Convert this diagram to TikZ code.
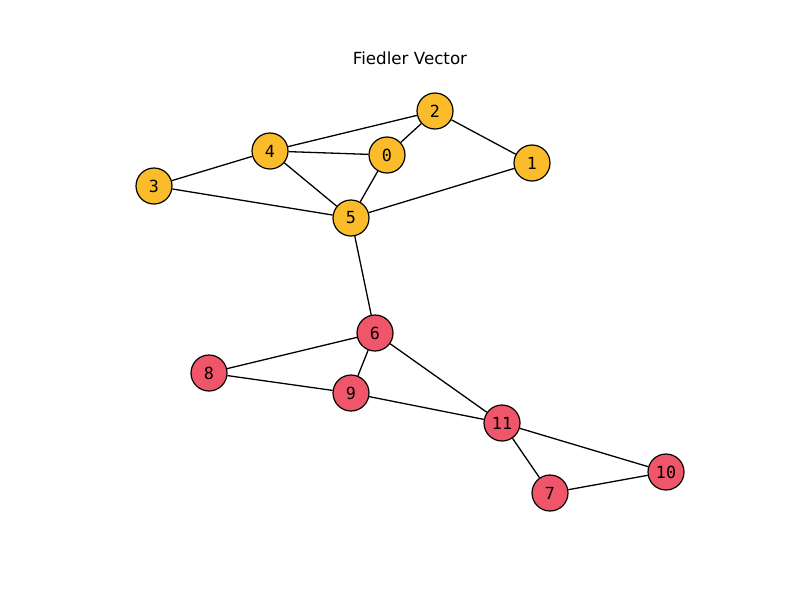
\documentclass[tikz,border=0pt]{standalone}
\usepackage{fontspec}
\setmainfont{DejaVu Sans}
\newfontfamily\monofnt{DejaVu Sans Mono}
\definecolor{yel}{HTML}{FBBC2C}
\definecolor{redn}{HTML}{F0566A}
\begin{document}
\begin{tikzpicture}[x=1pt,y=-1pt,
  vtx/.style={circle,draw=black,line width=1.2pt,minimum size=36pt,inner sep=0pt,font=\monofnt\fontsize{16.7}{20}\selectfont},
  yv/.style={vtx,fill=yel},
  rv/.style={vtx,fill=redn},
  edge/.style={line width=1.3pt,black}]
\useasboundingbox (0,0) rectangle (800,600);
\node[font=\fontsize{16.7}{20}\selectfont] (title) at (410,58) {Fiedler Vector};
\node[yv] (n0) at (387,155) {0};
\node[yv] (n1) at (532,163) {1};
\node[yv] (n2) at (435,111) {2};
\node[yv] (n3) at (154,186) {3};
\node[yv] (n4) at (270,151) {4};
\node[yv] (n5) at (351,218) {5};
\node[rv] (n6) at (375,333) {6};
\node[rv] (n7) at (550,493) {7};
\node[rv] (n8) at (209,373) {8};
\node[rv] (n9) at (351,393) {9};
\node[rv] (n10) at (666,472) {10};
\node[rv] (n11) at (502,423) {11};
\foreach \a/\b in {n4/n2,n4/n0,n0/n2,n2/n1,n4/n3,n4/n5,n0/n5,n3/n5,n5/n1,n5/n6,n6/n8,n6/n9,n6/n11,n8/n9,n9/n11,n11/n10,n11/n7,n7/n10}
  \draw[edge] (\a) -- (\b);
\end{tikzpicture}
\end{document}
